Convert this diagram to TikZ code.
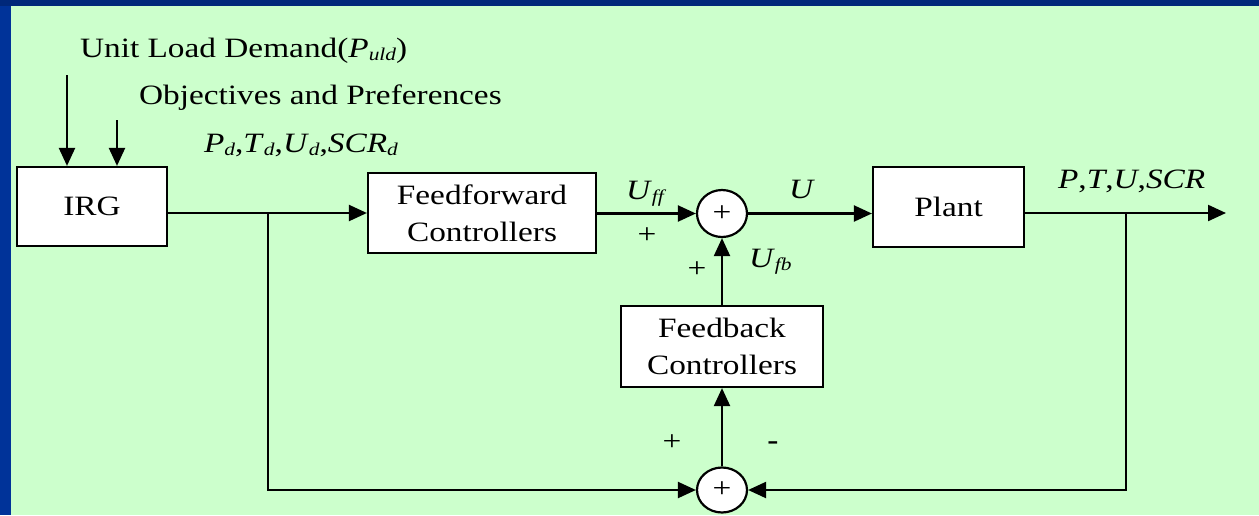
\documentclass[tikz,border=0pt]{standalone}
\usepackage{fontspec}
\setmainfont{Liberation Serif}[FakeStretch=1.19]
\usetikzlibrary{arrows.meta,shapes.geometric}
\definecolor{bggreen}{HTML}{CCFFCC}
\definecolor{topblue}{HTML}{00287A}
\definecolor{leftblue}{HTML}{003399}
\newcommand\sbs[1]{\raisebox{-0.12em}{\fontsize{18}{18}\selectfont\itshape #1}}
\begin{document}
\begin{tikzpicture}[x=1pt,y=-1pt,line width=2.2pt,
  blk/.style={draw,fill=white,line width=2.2pt,inner sep=0pt,align=center,font=\fontsize{28}{37}\selectfont},
  sumnode/.style={draw,fill=white,ellipse,inner sep=0pt,minimum width=50pt,minimum height=47pt,font=\fontsize{28}{28}\selectfont},
  arr/.style={-{Triangle[length=18pt,width=16pt]}},
  lbl/.style={inner sep=0pt,anchor=base west,font=\fontsize{28}{34}\selectfont},
  sgn/.style={inner sep=0pt,font=\fontsize{28}{28}\selectfont}]
\useasboundingbox (0,0) rectangle (1259,515);
\fill[bggreen] (0,0) rectangle (1259,515);
\fill[leftblue] (0,0) rectangle (11,515);
\fill[topblue] (0,0) rectangle (1259,6);

% blocks
\node[blk,minimum width=150pt,minimum height=79pt] (irg) at (92,206.5) {IRG};
\node[blk,minimum width=228pt,minimum height=80pt] (ff) at (482,213) {Feedforward\\Controllers};
\node[blk,minimum width=151pt,minimum height=80pt] (plant) at (948.5,207) {Plant};
\node[blk,minimum width=202pt,minimum height=81pt] (fb) at (722,346.5) {Feedback\\Controllers};
\node[sumnode] (s1) at (722,213.5) {+};
\node[sumnode,minimum height=45pt] (s2) at (722,490) {+};

% coordinates
\coordinate (in1) at (67,75);
\coordinate (in2) at (117,120);
\coordinate (j1) at (268,213);
\coordinate (j2) at (1126,213);
\coordinate (out) at (1226,213);

% connectors
\draw[arr] (in1) -- (in1 |- irg.north);
\draw[arr] (in2) -- (in2 |- irg.north);
\draw (irg.east |- j1) -- (j1);
\draw[arr] (j1) -- (ff.west |- j1);
\draw[arr] (ff.east |- s1) -- (s1.west);
\draw[arr] (s1.east) -- (s1.east -| plant.west);
\draw (plant.east |- j2) -- (j2);
\draw[arr] (j2) -- (out);
\draw[arr] (j2) |- (s2.east);
\draw[arr] (j1) |- (s2.west);
\draw[arr] (s2.north) -- (fb.south);
\draw[arr] (fb.north) -- (s1.south);

% labels
\node[lbl] (tuld) at (79,57) {Unit Load Demand(\textit{P}\sbs{uld})};
\node[lbl] (tobj) at (138,104) {Objectives and Preferences};
\node[lbl] (tref) at (203,152) {\textit{P}\sbs{d},\textit{T}\sbs{d},\textit{U}\sbs{d},\textit{SCR}\sbs{d}};
\node[lbl] (tuff) at (625,199) {\textit{U}\sbs{ff}};
\node[lbl] (tu) at (788,198) {\textit{U}};
\node[lbl] (tufb) at (748,267) {\textit{U}\sbs{fb}};
\node[lbl] (tout) at (1057,188) {\textit{P},\textit{T},\textit{U},\textit{SCR}};

\node[sgn] (p1) at (647,236) {+};
\node[sgn] (p2) at (697,270) {+};
\node[sgn] (p3) at (672,443) {+};
\node[sgn] (m1) at (773,446) {\textbf{-}};
\end{tikzpicture}
\end{document}
